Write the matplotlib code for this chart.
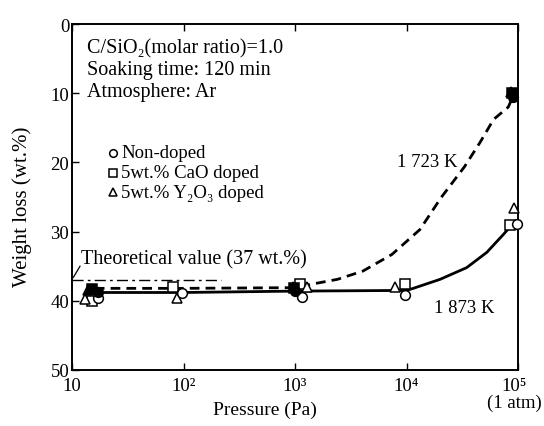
import matplotlib
matplotlib.use("Agg")
import matplotlib.pyplot as plt
import matplotlib.transforms as mtransforms
from matplotlib.ticker import FixedLocator, NullLocator

plt.rcParams['font.family'] = ['Liberation Serif', 'DejaVu Serif']

# ---- data ----
# 1723 K, filled symbols
f_circle_P = [17, 1000, 90000]
f_circle_y = [38.8, 38.6, 10.5]
f_square_P = [15, 980, 88000]
f_square_y = [38.3, 38.2, 10.0]
f_tri_P = [14, 960, 87000]
f_tri_y = [38.5, 38.0, 9.8]

# 1873 K, open symbols
o_circle_P = [17, 97, 1150, 9600, 98000]
o_circle_y = [39.6, 38.9, 39.4, 39.2, 28.9]
o_square_P = [15, 80, 1100, 9600, 85000]
o_square_y = [40.0, 38.0, 37.5, 37.5, 29.0]
o_tri_P = [13, 87, 1290, 7900, 93000]
o_tri_y = [39.8, 39.6, 38.0, 38.0, 26.6]

# fitted curves
dash_P = [16, 100, 1000, 1410, 2400, 4070, 7400, 13200, 20400, 33200, 45700, 60300, 81800, 90000]
dash_y = [38.2, 38.2, 38.1, 37.6, 36.9, 35.7, 33.3, 29.7, 25.1, 20.6, 17.1, 13.8, 12.0, 10.5]
solid_P = [16, 100, 1000, 10000, 11500, 20000, 34700, 52500, 74100, 85000]
solid_y = [38.8, 38.8, 38.6, 38.5, 38.2, 36.9, 35.2, 33.0, 30.4, 29.3]

theo_P = [10, 215]
theo_y = [37, 37]

x_ticks = [10, 100, 1000, 10000, 100000]
x_ticklabels = ['10', '10²', '10³', '10⁴', '10⁵\n(1 atm)']
y_ticks = [0, 10, 20, 30, 40, 50]

legend_labels = ['Non-doped', '5wt.% CaO doped', '5wt.% Y₂O₃ doped']
info_lines = ['C/SiO₂(molar ratio)=1.0', 'Soaking time: 120 min', 'Atmosphere: Ar']

# ---- figure ----
fig = plt.figure(figsize=(5.44, 4.27), dpi=100)
ax = fig.add_axes([72/544, 1-371/427, (518-72)/544, (371-25)/427])
ax.set_xscale('log')
ax.set_xlim(10, 1e5)
ax.set_ylim(50, 0)

ax.plot(theo_P, theo_y, color='black', lw=1.0, ls=(0, (8, 3, 2, 3)), zorder=2)
ax.plot(dash_P, dash_y, color='black', lw=2.0, ls=(0, (3.5, 2.2)), zorder=2)
ax.plot(solid_P, solid_y, color='black', lw=2.0, ls='-', zorder=2)

ms = 7
kw_open = dict(ls='none', mfc='white', mec='black', mew=1.1, ms=ms, clip_on=False, zorder=4)
kw_fill = dict(ls='none', mfc='black', mec='black', mew=1.1, ms=ms, clip_on=False, zorder=5)
ax.plot(o_square_P, o_square_y, marker='s', **kw_open)
ax.plot(o_tri_P, o_tri_y, marker='^', **kw_open)
ax.plot(o_circle_P, o_circle_y, marker='o', **kw_open)
ax.plot(f_square_P, f_square_y, marker='s', **kw_fill)
ax.plot(f_tri_P, f_tri_y, marker='^', **kw_fill)
ax.plot(f_circle_P, f_circle_y, marker='o', **kw_fill)

ax.xaxis.set_major_locator(FixedLocator(x_ticks))
ax.xaxis.set_minor_locator(NullLocator())
ax.set_xticklabels(x_ticklabels, linespacing=0.95)
ax.set_yticks(y_ticks)
ax.tick_params(direction='in', length=5, width=1.0, top=True, right=False,
               labelsize=13.5, pad=2)
ax.tick_params(axis='x', pad=5)
for s in ax.spines.values():
    s.set_linewidth(1.4)
last = ax.get_xticklabels()[-1]
last.set_transform(last.get_transform() + mtransforms.ScaledTranslation(-4/100, 0, fig.dpi_scale_trans))

fig.text(265/544, 1-410/427, 'Pressure (Pa)', ha='center', va='center', fontsize=14)
fig.text(22/544, 1-207/427, 'Weight loss (wt.%)', ha='center', va='center',
         rotation=90, fontsize=15)

# info text
for i, t in enumerate(info_lines):
    fig.text(87/544, 1-(49+21.5*i)/427, t, fontsize=14.5, va='center', ha='left')

# legend (symbols + text)
leg_markers = ['o', 's', '^']
for i, (m, t) in enumerate(zip(leg_markers, legend_labels)):
    yy = 1-(154+19.5*i)/427
    fig.lines.append(plt.Line2D([113/544], [yy], marker=m, ms=5.5, mfc='white', mec='black',
                                mew=1.1, ls='none', transform=fig.transFigure))
    fig.text(121/544, yy, t, fontsize=13.5, va='center', ha='left')

ax.text(15500, 19.9, '1 723 K', fontsize=13.5, ha='center', va='center')
ax.text(33000, 40.9, '1 873 K', fontsize=13.5, ha='center', va='center')
ax.text(12.0, 34.0, 'Theoretical value (37 wt.%)', fontsize=14.5, ha='left', va='center')
ax.plot([10.3, 11.8], [36.6, 35.0], color='black', lw=0.9, clip_on=False)

fig.savefig('out.png', dpi=100)
